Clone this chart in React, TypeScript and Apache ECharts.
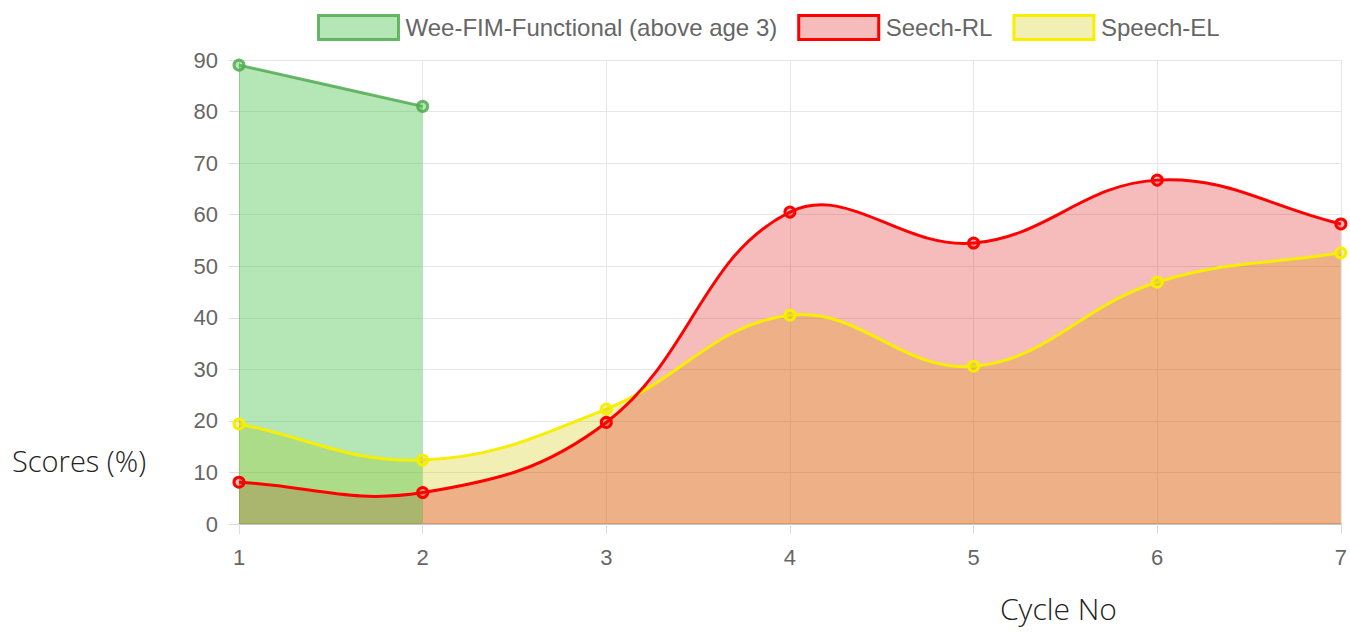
import React, { useEffect, useRef } from "react";
import * as echarts from "echarts";

const categories = ["1", "2", "3", "4", "5", "6", "7"];
const weeFim: (number | null)[] = [89, 81, null, null, null, null, null];
const speechRL: (number | null)[] = [8.1, 6.1, 19.7, 60.5, 54.5, 66.7, 58.2];
const speechEL: (number | null)[] = [19.4, 12.4, 22.3, 40.5, 30.6, 46.9, 52.6];
const yTicks = { min: 0, max: 90, interval: 10 };

// drawn in this order (Chart.js draws the last dataset first)
const seriesDefs = [
  { name: "Speech-EL", data: speechEL, line: "#f7ee00", fill: "rgba(210,200,0,0.29)", tension: 0.4 },
  { name: "Seech-RL", data: speechRL, line: "#ff0000", fill: "rgba(225,25,25,0.29)", tension: 0.4 },
  { name: "Wee-FIM-Functional (above age 3)", data: weeFim, line: "rgba(80,170,80,0.85)", fill: "rgba(70,192,70,0.4)", tension: 0.4 },
];
const legendOrder = ["Wee-FIM-Functional (above age 3)", "Seech-RL", "Speech-EL"];

type P = number[];
function controlPoints(pts: P[], t: number) {
  return pts.map((cur, i) => {
    const prev = i > 0 ? pts[i - 1] : cur;
    const next = i < pts.length - 1 ? pts[i + 1] : cur;
    const d01 = Math.hypot(cur[0] - prev[0], cur[1] - prev[1]);
    const d12 = Math.hypot(next[0] - cur[0], next[1] - cur[1]);
    let s01 = d01 / (d01 + d12);
    let s12 = d12 / (d01 + d12);
    if (isNaN(s01)) s01 = 0;
    if (isNaN(s12)) s12 = 0;
    const fa = t * s01;
    const fb = t * s12;
    return {
      prev: [cur[0] - fa * (next[0] - prev[0]), cur[1] - fa * (next[1] - prev[1])],
      next: [cur[0] + fb * (next[0] - prev[0]), cur[1] + fb * (next[1] - prev[1])],
    };
  });
}

let registered = false;
function registerCurve() {
  if (registered) return;
  registered = true;
  const Curve = (echarts.graphic as any).extendShape({
    type: "cjsCurve",
    shape: { points: [], cps: [], baseY: 0, closed: false },
    buildPath(ctx: any, shape: any) {
      const p = shape.points;
      if (!p || !p.length) return;
      ctx.moveTo(p[0][0], p[0][1]);
      for (let i = 1; i < p.length; i++) {
        const a = shape.cps[i - 1].next;
        const b = shape.cps[i].prev;
        ctx.bezierCurveTo(a[0], a[1], b[0], b[1], p[i][0], p[i][1]);
      }
      if (shape.closed) {
        ctx.lineTo(p[p.length - 1][0], shape.baseY);
        ctx.lineTo(p[0][0], shape.baseY);
        ctx.closePath();
      }
    },
  });
  (echarts.graphic as any).registerShape("cjsCurve", Curve);
}

export default function App() {
  const ref = useRef<HTMLDivElement>(null);
  useEffect(() => {
    registerCurve();
    const chart = echarts.init(ref.current!, null, { renderer: "svg" });
    const font = "'Liberation Sans', Arial, sans-serif";
    const titleFont = "'Open Sans', 'Noto Sans', sans-serif";

    const pointsOf = (d: (number | null)[], api: any) => {
      const pts: P[] = [];
      d.forEach((v, i) => {
        if (v != null) pts.push(api.coord([i, v]));
      });
      return pts;
    };
    const dataOf = (d: (number | null)[]) =>
      d.map((v, i) => [i, v]).filter((p) => p[1] != null);

    const fillSeries = seriesDefs.map((s) => ({
      name: s.name,
      type: "custom",
      z: 2,
      data: dataOf(s.data),
      renderItem: (params: any, api: any) => {
        if (params.dataIndex !== 0) return null;
        const pts = pointsOf(s.data, api);
        const cps = controlPoints(pts, s.tension);
        const baseY = api.coord([0, 0])[1];
        return {
          type: "cjsCurve",
          shape: { points: pts, cps, baseY, closed: true },
          style: { fill: s.fill, stroke: null },
        };
      },
      silent: true,
    }));

    const lineSeries = seriesDefs.map((s) => ({
      name: s.name,
      type: "custom",
      z: 3,
      data: dataOf(s.data),
      renderItem: (params: any, api: any) => {
        const children: any[] = [];
        if (params.dataIndex === 0) {
          const pts = pointsOf(s.data, api);
          const cps = controlPoints(pts, s.tension);
          children.push({
            type: "cjsCurve",
            shape: { points: pts, cps, baseY: 0, closed: false },
            style: { fill: null, stroke: s.line, lineWidth: 3 },
          });
        }
        const c = api.coord([api.value(0), api.value(1)]);
        children.push({
          type: "circle",
          shape: { cx: c[0], cy: c[1], r: 5 },
          style: { fill: s.fill, stroke: s.line, lineWidth: 3 },
        });
        return { type: "group", children };
      },
      silent: true,
    }));

    chart.setOption({
      animation: false,
      legend: {
        top: 9,
        left: 312,
        itemWidth: 80,
        itemHeight: 24,
        itemGap: 20,
        textStyle: { fontSize: 24, color: "#666", fontFamily: font, padding: [0, 0, 0, 2] },
        data: legendOrder.map((n) => {
          const s = seriesDefs.find((d) => d.name === n)!;
          return {
            name: n,
            icon: "rect",
            itemStyle: { color: s.fill, borderColor: s.line, borderWidth: 3 },
          };
        }),
      },
      grid: { left: 239, right: 6, top: 60, bottom: 109, containLabel: false },
      xAxis: {
        type: "category",
        data: categories,
        boundaryGap: false,
        axisLine: { lineStyle: { color: "#bbb", width: 1.5 } },
        axisTick: { show: true, length: 10, lineStyle: { color: "#ddd" } },
        axisLabel: { fontSize: 22, color: "#666", fontFamily: font, margin: 22 },
        splitLine: { show: true, lineStyle: { color: "#e6e6e6" } },
      },
      yAxis: {
        type: "value",
        min: yTicks.min,
        max: yTicks.max,
        interval: yTicks.interval,
        axisLine: { show: true, lineStyle: { color: "#ccc" } },
        axisTick: { show: true, length: 10, lineStyle: { color: "#ddd" } },
        axisLabel: { fontSize: 22, color: "#666", fontFamily: font, margin: 21 },
        splitLine: { show: true, lineStyle: { color: "#e6e6e6" } },
      },
      series: [...fillSeries, ...lineSeries],
      graphic: [
        {
          type: "text",
          x: 12,
          y: 460,
          style: { text: "Scores (%)", fontSize: 29, fontFamily: titleFont, fontWeight: 300, fill: "#222", verticalAlign: "middle" },
        },
        {
          type: "text",
          x: 1000,
          y: 608,
          style: { text: "Cycle No", fontSize: 30, fontFamily: titleFont, fontWeight: 300, fill: "#222", verticalAlign: "middle" },
        },
      ],
    });
    return () => chart.dispose();
  }, []);
  return <div ref={ref} style={{ position: "fixed", left: 0, top: 0, width: 1350, height: 633, background: "#fff" }} />;
}
